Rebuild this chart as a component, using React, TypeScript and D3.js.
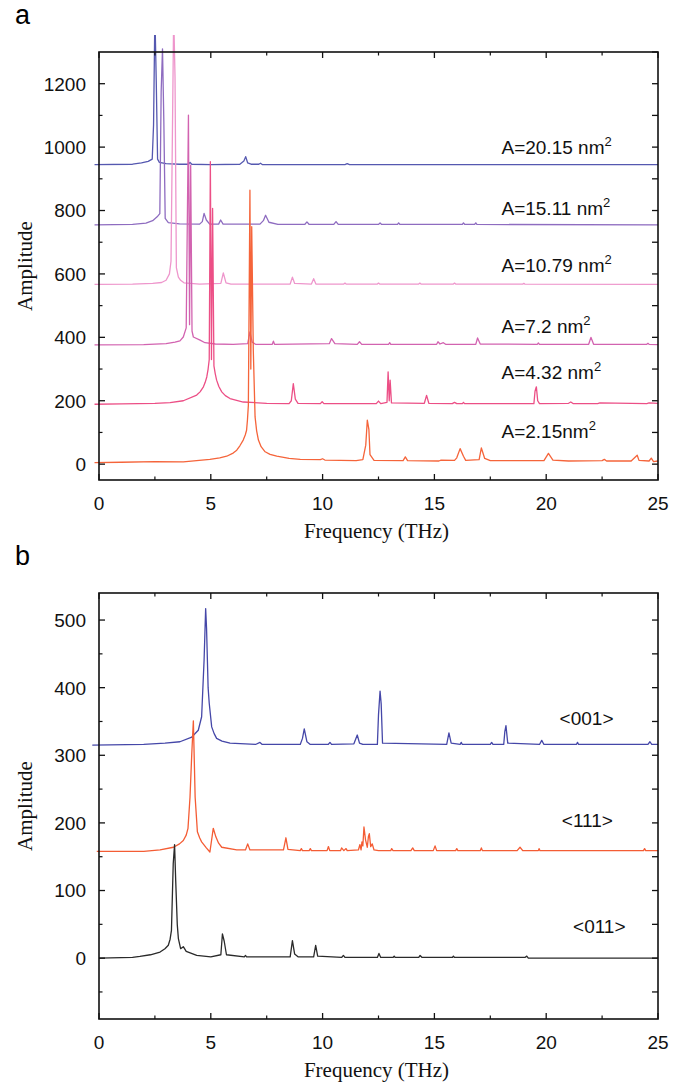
import React from "react";
import * as d3 from "d3";

type Pt = [number, number];

// ---------- Panel a data (frequency THz, amplitude) ----------
const aSeriesNames = ["A=20.15 nm", "A=15.11 nm", "A=10.79 nm", "A=7.2 nm", "A=4.32 nm", "A=2.15nm"];

const aBlue2015: Pt[] = [[-0.2,945],[1.5,946],[1.9,950],[2.2,955],[2.38,962],[2.44,1070],[2.5,1420],[2.56,1210],[2.62,962],[2.7,952],[3.0,948],[3.6,946],[4.0,946],[4.07,952],[4.15,946],[5.0,945],[6.3,946],[6.48,956],[6.56,970],[6.65,950],[6.8,946],[7.15,946],[7.22,949],[7.3,945],[11.0,945],[11.1,948],[11.2,945],[25,945]];

const aPurple1511: Pt[] = [[-0.2,755],[1.5,756],[2.1,760],[2.4,768],[2.6,780],[2.72,790],[2.78,1175],[2.84,1310],[2.9,1080],[2.96,775],[3.1,762],[3.6,758],[4.5,757],[4.62,765],[4.7,791],[4.8,770],[4.95,757],[5.35,757],[5.44,770],[5.55,757],[7.2,757],[7.35,768],[7.45,785],[7.6,763],[8.0,756],[9.2,756],[9.3,764],[9.4,756],[10.5,756],[10.6,765],[10.7,756],[12.5,756],[12.57,761],[12.64,756],[13.35,756],[13.4,761],[13.46,756],[16.25,756],[16.3,761],[16.36,756],[16.8,756],[16.85,761],[16.9,756],[25,755]];

const aPink1079: Pt[] = [[-0.2,567],[1.5,568],[2.4,570],[2.8,573],[3.0,580],[3.15,600],[3.22,640],[3.28,1020],[3.34,1420],[3.4,1220],[3.46,620],[3.55,590],[3.65,580],[3.8,572],[4.5,568],[5.45,570],[5.56,603],[5.68,572],[5.9,568],[8.55,568],[8.65,590],[8.75,570],[9.5,568],[9.6,585],[9.7,568],[10.95,568],[11.0,571],[11.05,568],[12.45,568],[12.5,571],[12.55,568],[14.3,568],[14.35,571],[14.4,568],[15.85,568],[15.9,571],[15.95,568],[18.95,568],[19.0,570],[19.05,568],[25,567]];

const aMagenta72: Pt[] = [[-0.2,376],[2.0,377],[3.0,380],[3.4,385],[3.62,389],[3.77,401],[3.9,430],[4.0,1101],[4.05,440],[4.1,943],[4.16,420],[4.22,401],[4.52,391],[4.74,383],[5.2,379],[6.0,378],[6.65,380],[6.75,417],[6.85,385],[7.0,378],[7.75,378],[7.8,388],[7.85,378],[10.3,380],[10.4,396],[10.55,380],[11.55,378],[11.65,386],[11.75,378],[12.95,378],[13.0,383],[13.05,378],[15.1,378],[15.16,386],[15.25,379],[15.4,383],[15.5,378],[16.85,378],[16.93,398],[17.05,379],[19.6,378],[19.65,382],[19.7,378],[21.9,378],[22.0,400],[22.12,378],[24.5,378],[24.55,381],[24.6,378],[25,377]];

const aRed432: Pt[] = [[-0.2,189],[1.0,190],[2.5,192],[3.18,194],[3.77,200],[4.37,218],[4.52,228],[4.67,244],[4.75,258],[4.82,275],[4.88,300],[4.93,330],[4.98,954],[5.03,330],[5.08,807],[5.14,310],[5.2,285],[5.26,265],[5.36,245],[5.49,228],[5.65,216],[5.86,207],[6.45,196],[7.5,192],[8.5,191],[8.6,200],[8.69,254],[8.78,205],[8.9,192],[9.9,191],[9.98,197],[10.06,191],[12.4,191],[12.5,199],[12.6,191],[12.88,195],[12.93,291],[12.98,200],[13.02,265],[13.08,193],[14.55,192],[14.65,217],[14.75,192],[15.8,191],[15.9,195],[16.0,191],[16.25,191],[16.3,195],[16.35,191],[19.45,191],[19.5,230],[19.56,244],[19.62,200],[19.7,191],[21.0,192],[21.1,196],[21.2,191],[22.3,191],[22.4,193],[24.5,191],[24.6,193],[25,192]];

const aOrange215: Pt[] = [[-0.2,5],[1.0,6],[2.5,8],[3.77,7],[4.96,15],[5.4,20],[5.71,25],[6.0,35],[6.16,44],[6.3,58],[6.45,76],[6.54,92],[6.6,107],[6.64,140],[6.68,186],[6.75,864],[6.79,300],[6.83,749],[6.9,360],[6.98,149],[7.05,105],[7.13,76],[7.25,55],[7.43,39],[7.65,31],[7.95,25],[8.5,18],[9.0,15],[9.9,14],[10.0,17],[10.1,13],[11.5,11],[11.8,14],[11.93,60],[12.0,139],[12.07,110],[12.12,30],[12.3,12],[13.6,11],[13.7,23],[13.8,11],[15.2,10],[15.3,13],[15.9,12],[16.0,20],[16.15,49],[16.3,25],[16.4,12],[17.0,14],[17.1,51],[17.25,18],[17.5,11],[19.9,11],[20.1,34],[20.3,13],[21.0,10],[22.5,11],[22.6,15],[22.7,10],[23.8,10],[24.07,28],[24.15,12],[24.6,10],[24.7,19],[24.8,8],[25,10]];

const aLabelFreq = [18.0, 18.0, 18.0, 18.0, 18.0, 18.0];
const aLabelAmp = [978, 785, 606, 413, 268, 82];

const aYTicks = [0, 200, 400, 600, 800, 1000, 1200];
const aYMinor = [100, 300, 500, 700, 900, 1100];
const aYDomain: [number, number] = [-50, 1300];

// ---------- Panel b data ----------
const bSeriesNames = ["<001>", "<111>", "<011>"];

const b001: Pt[] = [[-0.3,315],[2.0,316],[2.95,318],[3.62,320],[4.15,327],[4.44,337],[4.59,357],[4.7,441],[4.77,517],[4.81,488],[4.88,400],[4.93,377],[5.04,342],[5.15,332],[5.26,325],[5.5,321],[5.86,318],[7.0,316],[7.2,319],[7.3,316],[9.0,316],[9.1,325],[9.18,339],[9.3,320],[9.45,316],[10.25,316],[10.33,319],[10.4,316],[11.4,317],[11.55,330],[11.65,318],[11.8,316],[12.45,316],[12.5,360],[12.57,395],[12.62,376],[12.68,318],[15.55,316],[15.65,333],[15.75,318],[16.15,316],[16.2,319],[16.25,316],[17.5,316],[17.56,319],[17.62,316],[18.1,316],[18.15,335],[18.2,344],[18.28,318],[19.7,316],[19.8,322],[19.9,316],[21.35,316],[21.4,319],[21.45,316],[24.55,316],[24.64,320],[24.72,316],[25,316]];

const b111: Pt[] = [[-0.1,158],[2.0,158],[2.73,160],[3.33,164],[3.6,169],[3.77,174],[3.9,182],[3.98,192],[4.07,238],[4.15,303],[4.22,351],[4.3,238],[4.4,187],[4.5,178],[4.59,172],[4.8,163],[4.96,157],[5.11,192],[5.23,179],[5.35,170],[5.49,164],[6.16,160],[6.55,160],[6.65,169],[6.75,160],[8.25,160],[8.36,178],[8.45,161],[9.0,159],[9.05,162],[9.1,159],[9.4,159],[9.45,162],[9.5,159],[10.2,159],[10.26,165],[10.32,159],[10.8,159],[10.85,163],[10.95,159],[11.05,162],[11.1,159],[11.6,160],[11.67,168],[11.72,160],[11.76,172],[11.8,166],[11.85,194],[11.92,175],[12.0,164],[12.05,180],[12.09,184],[12.15,165],[12.22,169],[12.3,160],[12.5,159],[13.05,159],[13.09,162],[13.15,159],[13.95,159],[14.03,163],[14.1,159],[14.95,159],[15.03,166],[15.1,159],[15.95,159],[16.0,162],[16.05,159],[17.05,159],[17.1,163],[17.15,159],[18.7,159],[18.83,164],[18.95,159],[19.65,159],[19.68,162],[19.72,159],[24.35,159],[24.4,162],[24.45,159],[25,159]];

const b011: Pt[] = [[0,0],[1.5,1],[1.83,2.5],[2.3,5],[2.73,9],[2.95,14],[3.1,19],[3.18,28],[3.24,41],[3.32,140],[3.38,168],[3.43,115],[3.5,50],[3.55,29],[3.65,14],[3.77,17],[3.9,10],[4.37,4],[5.0,2],[5.45,5],[5.52,36],[5.6,25],[5.7,5],[6.5,2],[6.55,4],[6.6,2],[8.55,2],[8.65,26],[8.75,6],[8.9,2],[9.6,2],[9.69,19],[9.78,3],[10.85,1],[10.93,4],[11.0,1],[12.45,1],[12.52,7],[12.6,1],[13.15,1],[13.2,3],[13.25,1],[14.3,1],[14.36,4],[14.45,1],[15.8,1],[15.85,3],[15.9,1],[19.05,1],[19.13,3],[19.2,0],[25,0]];

const bLabelFreq = [20.6, 20.7, 21.2];
const bLabelAmp = [345, 194, 37];

const bYTicks = [0, 100, 200, 300, 400, 500];
const bYMinor = [-50, 50, 150, 250, 350, 450];
const bYDomain: [number, number] = [-90, 540];

const xTicks = [0, 5, 10, 15, 20, 25];
const xMinor = [2.5, 7.5, 12.5, 17.5, 22.5];
const xDomain: [number, number] = [0, 25];

// ---------- Styles ----------
const aColors = ["#5558b0", "#8e6cc0", "#ee96cc", "#d263b0", "#ec4f86", "#f5643a"];
const bColors = ["#4547a8", "#f45c34", "#2a2a2a"];

const SANS = "Liberation Sans, Arial, sans-serif";
const SERIF = "Liberation Serif, Times New Roman, serif";

interface PanelProps {
  letter: string;
  top: number;
  bottom: number;
  yDomain: [number, number];
  yTicks: number[];
  yMinor: number[];
  rightTicks: number[];
  series: Pt[][];
  colors: string[];
  names: string[];
  labelFreq: number[];
  labelAmp: number[];
  superscript: boolean;
  clipTop: number;
  id: string;
}

const LEFT = 99;
const RIGHT = 658;

function Panel(p: PanelProps) {
  const x = d3.scaleLinear().domain(xDomain).range([LEFT, RIGHT]);
  const y = d3.scaleLinear().domain(p.yDomain).range([p.bottom, p.top]);
  const line = d3
    .line<Pt>()
    .x((d) => x(d[0]))
    .y((d) => y(d[1]))
    .curve(d3.curveLinear);
  const tickStroke = "#111";
  return (
    <g>
      <defs>
        <clipPath id={p.id}>
          <rect x={LEFT - 8} y={p.clipTop} width={RIGHT - LEFT + 8} height={p.bottom - p.clipTop} />
        </clipPath>
      </defs>
      <text x={15} y={p.top - 28} fontFamily={SANS} fontSize={27}>
        {p.letter}
      </text>
      <g clipPath={`url(#${p.id})`}>
        {p.series.map((s, i) => (
          <path key={i} d={line(s) || ""} fill="none" stroke={p.colors[i]} strokeWidth={1.3} strokeLinejoin="round" />
        ))}
      </g>
      <rect x={LEFT} y={p.top} width={RIGHT - LEFT} height={p.bottom - p.top} fill="none" stroke="#111" strokeWidth={1.6} />
      {xTicks.map((t) => (
        <g key={"xt" + t}>
          <line x1={x(t)} x2={x(t)} y1={p.bottom} y2={p.bottom - 6} stroke={tickStroke} strokeWidth={1.3} />
          <line x1={x(t)} x2={x(t)} y1={p.top} y2={p.top + 6} stroke={tickStroke} strokeWidth={1.3} />
          <text x={x(t)} y={p.bottom + 30} textAnchor="middle" fontFamily={SANS} fontSize={19} fill="#111">
            {t}
          </text>
        </g>
      ))}
      {xMinor.map((t) => (
        <g key={"xm" + t}>
          <line x1={x(t)} x2={x(t)} y1={p.bottom} y2={p.bottom - 3.5} stroke={tickStroke} strokeWidth={1.2} />
          <line x1={x(t)} x2={x(t)} y1={p.top} y2={p.top + 3.5} stroke={tickStroke} strokeWidth={1.2} />
        </g>
      ))}
      {p.yTicks.map((t) => (
        <g key={"yt" + t}>
          <line x1={LEFT} x2={LEFT + 6} y1={y(t)} y2={y(t)} stroke={tickStroke} strokeWidth={1.3} />
          <text x={86} y={y(t)} dy="0.36em" textAnchor="end" fontFamily={SANS} fontSize={19} fill="#111">
            {t}
          </text>
        </g>
      ))}
      {p.yMinor.map((t) => (
        <line key={"ym" + t} x1={LEFT} x2={LEFT + 3.5} y1={y(t)} y2={y(t)} stroke={tickStroke} strokeWidth={1.2} />
      ))}
      {p.rightTicks.map((t) => (
        <line key={"yr" + t} x1={RIGHT} x2={RIGHT - 6} y1={y(t)} y2={y(t)} stroke={tickStroke} strokeWidth={1.3} />
      ))}
      <text x={(LEFT + RIGHT) / 2 - 2} y={p.bottom + 58} textAnchor="middle" fontFamily={SERIF} fontSize={21} fill="#111">
        Frequency (THz)
      </text>
      <text
        transform={`translate(32, ${(p.top + p.bottom) / 2}) rotate(-90)`}
        textAnchor="middle"
        fontFamily={SERIF}
        fontSize={21}
        fill="#111"
      >
        Amplitude
      </text>
      {p.names.map((n, i) => (
        <text key={"lb" + i} x={x(p.labelFreq[i])} y={y(p.labelAmp[i])} fontFamily={SANS} fontSize={19} fill="#111">
          {n}
          {p.superscript ? (
            <tspan dy={-8} fontSize={13}>
              2
            </tspan>
          ) : null}
        </text>
      ))}
    </g>
  );
}

export default function App() {
  const aRight = d3.range(0, 1301, 100);
  const bRight = d3.range(-50, 540, 50);
  return (
    <svg
      width={685}
      height={1084}
      viewBox="0 0 685 1084"
      style={{ position: "absolute", left: 0, top: 0, background: "#fff" }}
    >
      <rect x={0} y={0} width={685} height={1084} fill="#fff" />
      <Panel
        letter="a"
        id="clipA"
        top={52}
        bottom={480}
        yDomain={aYDomain}
        yTicks={aYTicks}
        yMinor={aYMinor}
        rightTicks={aRight}
        series={[aBlue2015, aPurple1511, aPink1079, aMagenta72, aRed432, aOrange215]}
        colors={aColors}
        names={aSeriesNames}
        labelFreq={aLabelFreq}
        labelAmp={aLabelAmp}
        superscript={true}
        clipTop={35}
      />
      <Panel
        letter="b"
        id="clipB"
        top={593}
        bottom={1019}
        yDomain={bYDomain}
        yTicks={bYTicks}
        yMinor={bYMinor}
        rightTicks={bRight}
        series={[b001, b111, b011]}
        colors={bColors}
        names={bSeriesNames}
        labelFreq={bLabelFreq}
        labelAmp={bLabelAmp}
        superscript={false}
        clipTop={580}
      />
    </svg>
  );
}
